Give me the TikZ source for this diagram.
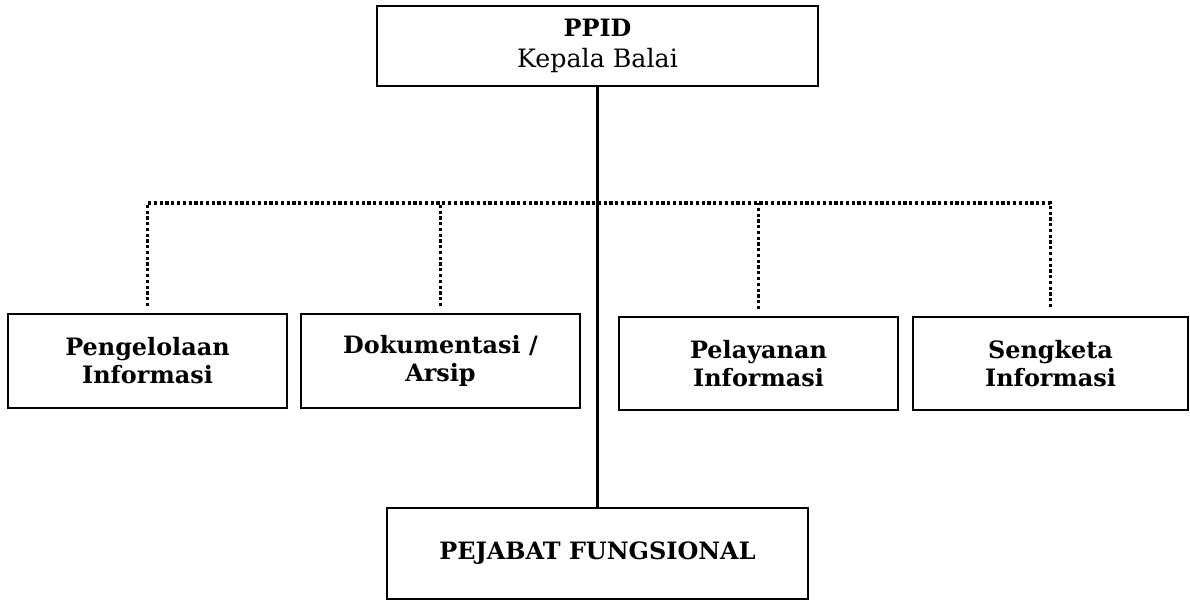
\documentclass[tikz,border=0pt]{standalone}
\usepackage{fontspec}
\setmainfont{DejaVu Serif}
\usetikzlibrary{positioning}

\tikzset{
  unitbox/.style={draw=black, line width=1.3pt, rectangle, align=center, inner sep=0pt,
    font=\fontsize{17}{20}\selectfont\bfseries},
  dotline/.style={line width=2.2pt, dash pattern=on 2.3pt off 1.8pt},
  mainline/.style={line width=1.6pt}
}

\begin{document}
\begin{tikzpicture}[x=0.025cm, y=-0.025cm]
\useasboundingbox (0,0) rectangle (1190,600);

% top
\node[unitbox, minimum width=441*0.025cm, minimum height=80*0.025cm] (ppid) at (597.5,46)
  {PPID\\[1.5pt]\fontsize{18}{20}\selectfont\mdseries Kepala Balai};

% units
\node[unitbox, minimum width=279*0.025cm, minimum height=94*0.025cm] (peng) at (147.5,361)
  {Pengelolaan\\Informasi};
\node[unitbox, minimum width=279*0.025cm, minimum height=94*0.025cm] (dok) at (440.5,361)
  {Dokumentasi /\\Arsip};
\node[unitbox, minimum width=279*0.025cm, minimum height=93*0.025cm] (pel) at (758.5,363.5)
  {Pelayanan\\Informasi};
\node[unitbox, minimum width=275*0.025cm, minimum height=93*0.025cm] (seng) at (1050.5,363.5)
  {Sengketa\\Informasi};

% bottom
\node[unitbox, minimum width=421*0.025cm, minimum height=91*0.025cm] (pf) at (597.5,553.5)
  {PEJABAT FUNGSIONAL};

\coordinate (bus) at (0,203);

\draw[mainline] (ppid.south) -- (pf.north);

\draw[dotline] ([yshift=0.175cm]peng.north) -- (peng.north |- bus) -- (seng.north |- bus)
  -- ([yshift=0.175cm]seng.north);
\draw[dotline] ([yshift=0.175cm]dok.north) -- (dok.north |- bus);
\draw[dotline] ([yshift=0.175cm]pel.north) -- (pel.north |- bus);
\end{tikzpicture}
\end{document}
